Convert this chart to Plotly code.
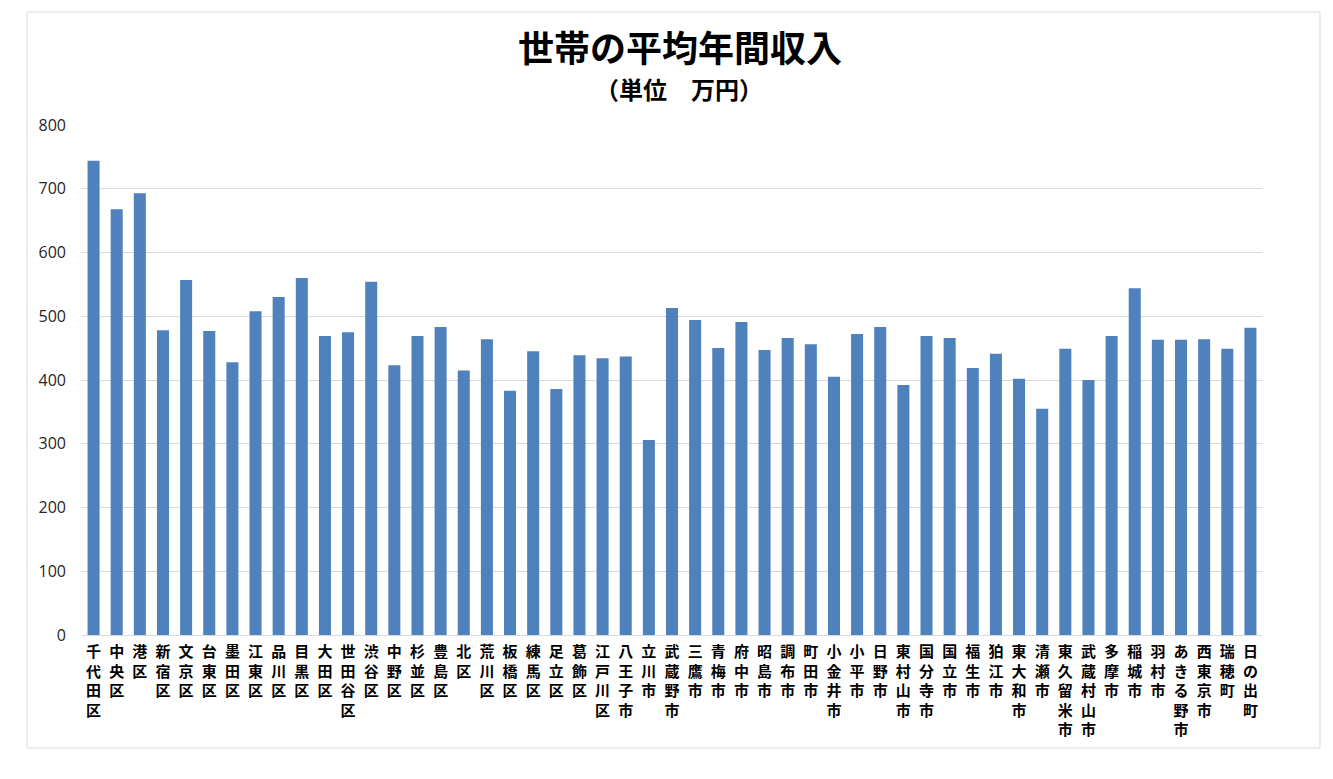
import plotly.graph_objects as go

categories = ["千代田区", "中央区", "港区", "新宿区", "文京区", "台東区", "墨田区", "江東区",
              "品川区", "目黒区", "大田区", "世田谷区", "渋谷区", "中野区", "杉並区", "豊島区",
              "北区", "荒川区", "板橋区", "練馬区", "足立区", "葛飾区", "江戸川区", "八王子市",
              "立川市", "武蔵野市", "三鷹市", "青梅市", "府中市", "昭島市", "調布市", "町田市",
              "小金井市", "小平市", "日野市", "東村山市", "国分寺市", "国立市", "福生市", "狛江市",
              "東大和市", "清瀬市", "東久留米市", "武蔵村山市", "多摩市", "稲城市", "羽村市",
              "あきる野市", "西東京市", "瑞穂町", "日の出町"]

income = [744, 668, 693, 478, 557, 477, 428, 508,
          530, 560, 469, 475, 554, 423, 469, 483,
          415, 464, 383, 445, 386, 439, 434, 437,
          306, 513, 494, 450, 491, 447, 466, 456,
          405, 472, 483, 392, 469, 466, 419, 441,
          402, 355, 449, 400, 469, 544, 463,
          463, 464, 449, 482]

y_ticks = [0, 100, 200, 300, 400, 500, 600, 700, 800]

title_text = "世帯の平均年間収入"
subtitle_text = "（単位　万円）"

tick_text = ["<b>" + "<br>".join(list(c)) + "</b>" for c in categories]

# page body has an 8px margin; figure is sized to fill the rest of the window
PW, PH = 1180, 510

fig = go.Figure()
fig.add_trace(go.Bar(
    x=categories,
    y=income,
    marker=dict(color="#4f81bd", line=dict(width=0)),
    width=0.52,
))

fig.update_layout(
    width=1325, height=771,
    paper_bgcolor="white", plot_bgcolor="white",
    margin=dict(l=74, r=71, t=117, b=144, pad=0),
    showlegend=False,
    font=dict(family="Noto Sans CJK JP", color="#000000"),
    xaxis=dict(
        tickmode="array", tickvals=categories, ticktext=tick_text,
        tickangle=0, tickfont=dict(size=15, color="#000000", family="Noto Sans CJK JP"),
        showgrid=False, showline=True, linecolor="#d9d9d9", linewidth=1,
        ticks="", ticklabelstandoff=3,
    ),
    yaxis=dict(
        range=[0, 800], tickvals=y_ticks,
        tickfont=dict(size=16, color="#262626", family="Open Sans"),
        showgrid=True, gridcolor="#d9d9d9", gridwidth=1,
        zeroline=False, showline=False, ticks="", ticklabelstandoff=15,
    ),
    shapes=[dict(type="rect", xref="paper", yref="paper",
                 x0=(27 - 82) / PW, x1=(1320 - 82) / PW,
                 y0=(635 - 748) / PH, y1=(635 - 12) / PH,
                 line=dict(color="#d9d9d9", width=1), fillcolor="rgba(0,0,0,0)")],
    annotations=[
        dict(text="<b>" + title_text + "</b>", xref="paper", yref="paper",
             x=(680 - 82) / PW, y=(635 - 46) / PH,
             xanchor="center", yanchor="middle", showarrow=False,
             font=dict(size=36, color="#000000", family="Noto Sans CJK JP")),
        dict(text="<b>" + subtitle_text + "</b>", xref="paper", yref="paper",
             x=(679 - 82) / PW, y=(635 - 88) / PH,
             xanchor="center", yanchor="middle", showarrow=False,
             font=dict(size=24, color="#000000", family="Noto Sans CJK JP")),
    ],
)

fig.write_html("out.html")
